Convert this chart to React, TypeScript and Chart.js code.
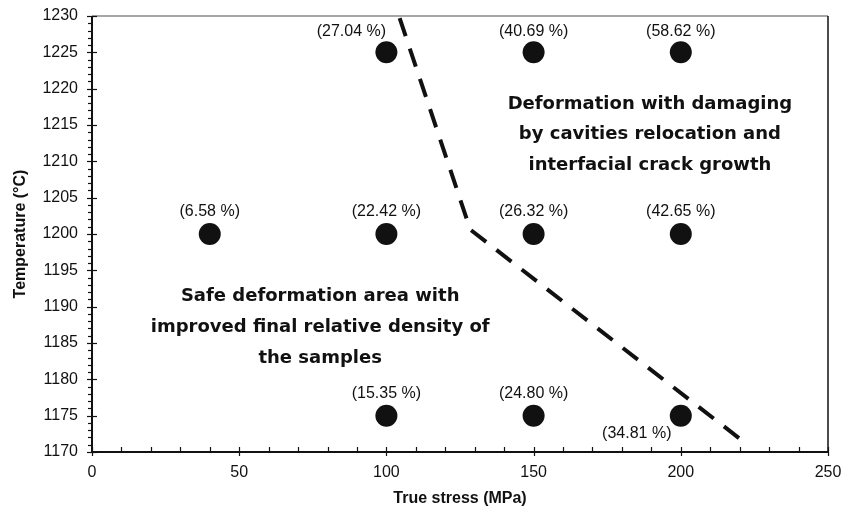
import React, { useEffect, useRef } from "react";
import { Chart, registerables } from "chart.js";

Chart.register(...registerables);

// Hot-pressing trials: true stress (MPa) vs temperature (°C)
const stressValues = [100, 150, 200, 40, 100, 150, 200, 100, 150, 200];
const temperatureValues = [1225, 1225, 1225, 1200, 1200, 1200, 1200, 1175, 1175, 1175];
const porosityLabels = ["27.04", "40.69", "58.62", "6.58", "22.42", "26.32", "42.65", "15.35", "24.80", "34.81"];

// Boundary between the safe and damaging regions
const boundaryStress = [104.5, 128.5, 219.8];
const boundaryTemperature = [1229.7, 1200.6, 1171.9];

const xTicks = [0, 50, 100, 150, 200, 250];
const yTicks = [1170, 1175, 1180, 1185, 1190, 1195, 1200, 1205, 1210, 1215, 1220, 1225, 1230];

const upperRegionText = ["Deformation with damaging", "by cavities relocation and", "interfacial crack growth"];
const lowerRegionText = ["Safe deformation area with", "improved final relative density of", "the samples"];

// Pixel offsets of each value label from its marker
const labelOffsets: [number, number][] = [
  [-35, -21], [0, -21], [0, -21],
  [0, -22], [0, -22], [0, -22], [0, -22],
  [0, -22], [0, -22], [-44, 18],
];

const INK = "#111111";

const decorPlugin = {
  id: "decor",
  afterDraw(chart: any) {
    const { ctx, chartArea: a, scales } = chart;
    const xs = scales.x;
    const ys = scales.y;
    ctx.save();

    // frame
    ctx.lineCap = "butt";
    ctx.strokeStyle = "#888888";
    ctx.lineWidth = 1.5;
    ctx.beginPath();
    ctx.moveTo(a.left, a.top);
    ctx.lineTo(a.right, a.top);
    ctx.stroke();
    ctx.strokeStyle = INK;
    ctx.lineWidth = 1.5;
    ctx.beginPath();
    ctx.moveTo(a.right, a.top);
    ctx.lineTo(a.right, a.bottom);
    ctx.stroke();
    ctx.lineWidth = 2;
    ctx.beginPath();
    ctx.moveTo(a.left, a.top);
    ctx.lineTo(a.left, a.bottom);
    ctx.lineTo(a.right, a.bottom);
    ctx.stroke();

    // y ticks: major crossing the axis, minor outside
    ctx.lineWidth = 1.2;
    for (let v = 1170; v <= 1230; v += 1) {
      const py = Math.round(ys.getPixelForValue(v)) + 0.5;
      const major = v % 5 === 0;
      ctx.beginPath();
      ctx.moveTo(a.left - (major ? 5 : 4), py);
      ctx.lineTo(a.left + (major ? 5 : 0), py);
      ctx.stroke();
    }
    // x ticks: major crossing the axis, minor inside
    for (let v = 0; v <= 250; v += 10) {
      const px = Math.round(xs.getPixelForValue(v)) + 0.5;
      const major = v % 50 === 0;
      ctx.beginPath();
      ctx.moveTo(px, a.bottom + (major ? 4 : 0));
      ctx.lineTo(px, a.bottom - 5);
      ctx.stroke();
    }

    // value labels
    ctx.fillStyle = INK;
    ctx.font = "16px 'Liberation Sans', Arial, sans-serif";
    ctx.textAlign = "center";
    ctx.textBaseline = "middle";
    stressValues.forEach((s, i) => {
      const px = xs.getPixelForValue(s) + labelOffsets[i][0];
      const py = ys.getPixelForValue(temperatureValues[i]) + labelOffsets[i][1];
      ctx.fillText(`(${porosityLabels[i]} %)`, px, py);
    });

    // region notes
    ctx.font = "bold 18px 'DejaVu Sans', sans-serif";
    const ux = xs.getPixelForValue(189.5);
    const uy = ys.getPixelForValue(1217.9);
    upperRegionText.forEach((t, i) => ctx.fillText(t, ux, uy + i * 30.5));
    const lx = xs.getPixelForValue(77.5);
    const ly = ys.getPixelForValue(1191.4);
    lowerRegionText.forEach((t, i) => ctx.fillText(t, lx, ly + i * 31));

    // axis titles
    ctx.font = "bold 16px 'Liberation Sans', Arial, sans-serif";
    ctx.fillText("True stress (MPa)", (a.left + a.right) / 2, 499);
    ctx.translate(21, (a.top + a.bottom) / 2);
    ctx.rotate(-Math.PI / 2);
    ctx.fillText("Temperature (°C)", 0, 0);
    ctx.restore();
  },
};

export default function App() {
  const canvasRef = useRef<HTMLCanvasElement | null>(null);

  useEffect(() => {
    if (!canvasRef.current) return;
    const points = stressValues.map((x, i) => ({ x, y: temperatureValues[i] }));
    const boundary = boundaryStress.map((x, i) => ({ x, y: boundaryTemperature[i] }));
    const tickFont = { family: "'Liberation Sans', Arial, sans-serif", size: 16 };

    const chart = new Chart(canvasRef.current, {
      type: "scatter",
      data: {
        datasets: [
          {
            data: boundary,
            showLine: true,
            borderColor: INK,
            borderWidth: 4,
            borderDash: [19, 13],
            pointRadius: 0,
            fill: false,
          },
          {
            data: points,
            pointRadius: 11,
            pointBackgroundColor: INK,
            pointBorderColor: INK,
            pointBorderWidth: 0,
          },
        ],
      },
      options: {
        animation: false,
        responsive: false,
        events: [],
        layout: { padding: { top: 16, right: 28, left: 0, bottom: 0 } },
        plugins: { legend: { display: false }, tooltip: { enabled: false } },
        scales: {
          x: {
            type: "linear",
            min: 0,
            max: 250,
            afterBuildTicks: (s: any) => { s.ticks = xTicks.map((v) => ({ value: v })); },
            afterFit: (s: any) => { s.height = 58; s.paddingLeft = 0; s.paddingRight = 0; },
            grid: { display: false, drawTicks: false },
            border: { display: false },
            ticks: { color: INK, font: tickFont, padding: 11, maxRotation: 0, callback: (v: any) => String(v) },
          },
          y: {
            type: "linear",
            min: 1170,
            max: 1230,
            afterBuildTicks: (s: any) => { s.ticks = yTicks.map((v) => ({ value: v })); },
            afterFit: (s: any) => { s.width = 92; s.paddingTop = 0; s.paddingBottom = 0; },
            grid: { display: false, drawTicks: false },
            border: { display: false },
            ticks: { color: INK, font: tickFont, padding: 14, callback: (v: any) => String(v) },
          },
        },
      },
      plugins: [decorPlugin],
    } as any);
    return () => chart.destroy();
  }, []);

  return (
    <div style={{ position: "fixed", left: 0, top: 0, width: 856, height: 510, background: "#fff" }}>
      <canvas ref={canvasRef} width={856} height={510} style={{ display: "block" }} />
    </div>
  );
}
